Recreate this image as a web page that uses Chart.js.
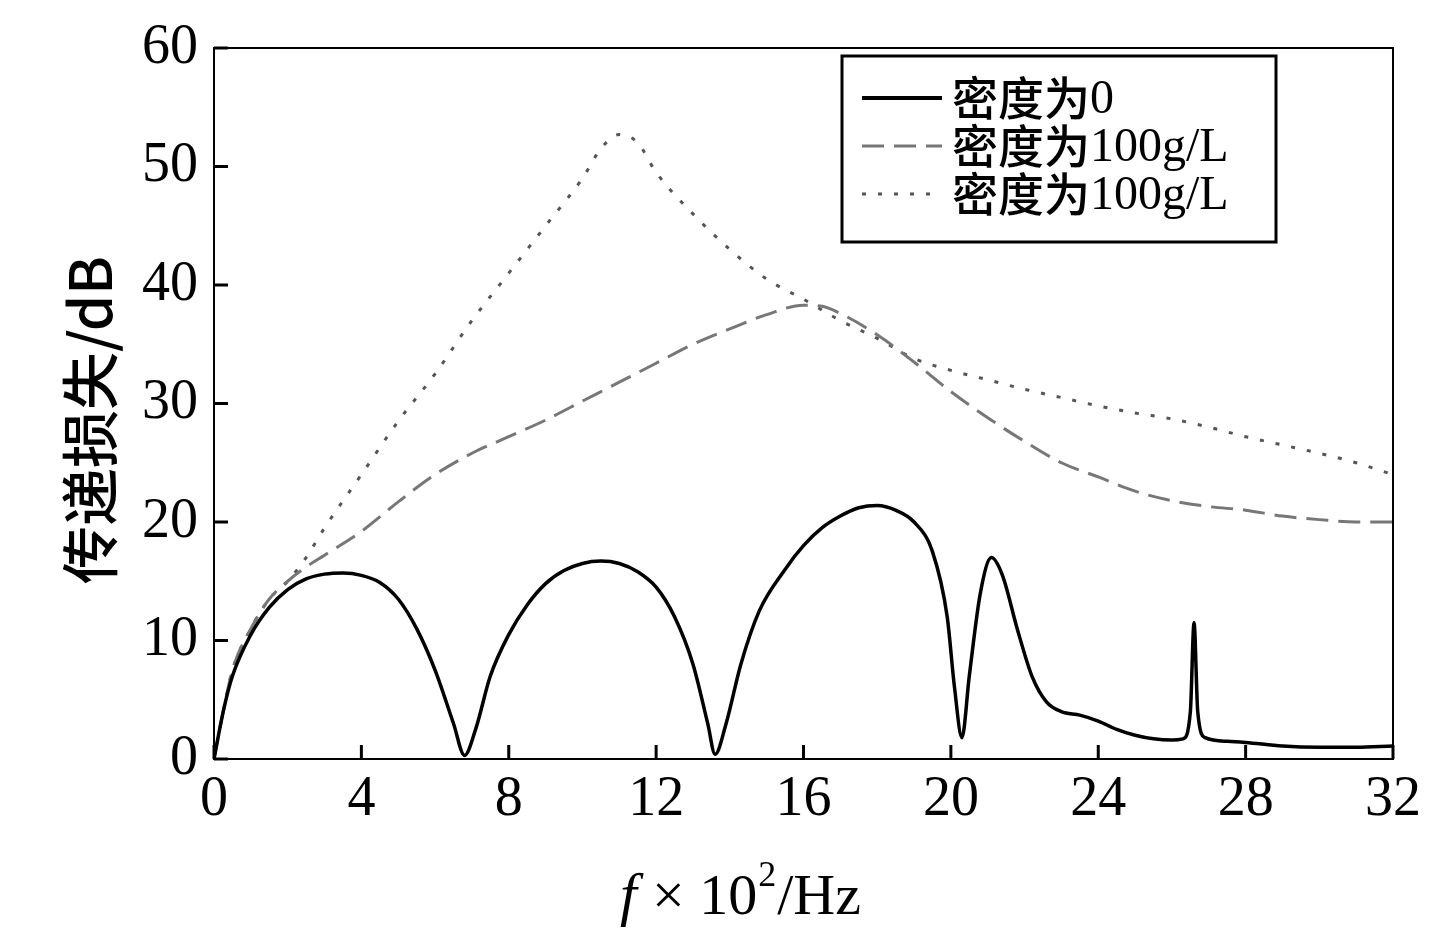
<!DOCTYPE html>
<html><head><meta charset="utf-8">
<script src="https://cdn.jsdelivr.net/npm/chart.js@4/dist/chart.umd.min.js"></script>
<style>html,body{margin:0;padding:0;background:#fff}#w{width:1448px;height:941px}</style>
</head><body><div id="w"><canvas id="c"></canvas></div>
<script>
const labels = ["密度为0","密度为100g/L","密度为100g/L"];
const xTicks = [0,4,8,12,16,20,24,28,32];
const yTicks = [0,10,20,30,40,50,60];
const solidX = [0,0.25,0.5,1,1.5,2,2.5,3,3.5,4,4.5,5,5.5,6,6.5,6.8,7.1,7.5,8,8.5,9,9.5,10,10.5,11,11.5,12,12.5,13,13.4,13.6,13.9,14.3,14.8,15.5,16,16.5,17,17.5,18,18.5,19,19.5,19.9,20.1,20.3,20.5,20.8,21.1,21.4,21.8,22.2,22.6,23,23.5,24,24.5,25,25.5,26,26.3,26.5,26.6,26.7,26.9,27.5,28,29,30,31,32];
const solidY = [0,4,7,10.5,12.8,14.3,15.2,15.6,15.7,15.5,14.9,13.5,11,7.5,3,0.3,2.5,7,10.5,13,14.8,15.9,16.5,16.7,16.5,15.8,14.5,12,8,3,0.4,3,8,12.5,16,18,19.5,20.5,21.2,21.4,21,20,17.5,12,6,1.8,7,14,17,15.5,11,7,4.8,4,3.7,3.2,2.5,2,1.7,1.6,1.7,4,11.5,4,1.8,1.5,1.4,1.1,1,1,1.1];
const dashX = [0,0.25,0.5,1,1.5,2,2.5,3,4,5,6,7,8,9,10,11,12,13,14,15,16,16.5,17,18,19,20,21,22,23,24,25,26,27,28,29,30,31,32];
const dashY = [0,4,7.5,11,13.5,15,16.2,17.2,19.2,21.7,24,25.8,27.2,28.6,30.2,31.8,33.4,35,36.3,37.5,38.3,38.2,37.6,35.8,33.5,31,28.8,26.8,25,23.8,22.6,21.8,21.3,21,20.5,20.2,20,20];
const dotX = [0,0.25,0.5,1,1.5,2,2.5,3,4,5,6,7,8,9,10,10.5,11,11.5,12,13,14,15,16,17,18,19,20,21,22,23,24,25,26,27,28,29,30,31,32];
const dotY = [0,4,7.5,11,13.5,15,17,19.5,24,28.5,32.5,37,41,45,49,51.5,52.7,52,49.5,46,43,40.5,38.8,37,35.5,33.8,32.8,32,31.2,30.5,29.8,29.2,28.7,28,27.2,26.5,25.8,25,24];
const pts=(xs,ys)=>xs.map((x,i)=>({x,y:ys[i]}));
const F='"Liberation Serif","Noto Sans CJK SC",serif';
const deco={id:'deco',afterDraw(ch){
 const c=ch.ctx,a=ch.chartArea,xs=ch.scales.x,ys=ch.scales.y;
 c.save();c.strokeStyle='#000';c.lineWidth=2;c.strokeRect(a.left,a.top,a.right-a.left,a.bottom-a.top);
 c.lineWidth=3;
 xTicks.forEach(v=>{const p=xs.getPixelForValue(v);c.beginPath();c.moveTo(p,a.bottom);c.lineTo(p,a.bottom-14);c.stroke();});
 yTicks.forEach(v=>{const p=ys.getPixelForValue(v);c.beginPath();c.moveTo(a.left,p);c.lineTo(a.left+14,p);c.stroke();});
 c.fillStyle='#000';c.textBaseline='alphabetic';
 c.font='italic 60px "Liberation Serif",serif';c.textAlign='left';
 c.fillText('f',620,914);
 c.font='58px "Liberation Serif",serif';c.fillText('× 10',652,914);
 const w=c.measureText('× 10').width;c.font='36px "Liberation Serif",serif';c.fillText('2',652+w+1,886);
 c.font='58px "Liberation Serif",serif';c.fillText('/Hz',652+w+20,914);
 c.translate(112,420);c.rotate(-Math.PI/2);c.textAlign='center';
 c.font='500 58px "Noto Sans CJK SC","Liberation Serif",serif';c.fillText('传递损失/dB',0,0);
 c.restore();
 c.save();c.strokeStyle='#000';c.lineWidth=3;c.strokeRect(842,56,434,186);
 const dash=[[],[22,10],[4,12]],cols=['#000','#777','#555'];
 labels.forEach((t,i)=>{const y=98+i*48;c.strokeStyle=cols[i];c.lineWidth=i==0?4:3;c.setLineDash(dash[i]);
  c.beginPath();c.moveTo(862,y);c.lineTo(942,y);c.stroke();
  c.setLineDash([]);c.fillStyle='#000';c.font='500 46px "Noto Sans CJK SC",serif';c.textBaseline='middle';c.textAlign='left';
  c.fillText(t.slice(0,3),952,y);const ww=c.measureText(t.slice(0,3)).width;
  c.font='48px "Liberation Serif",serif';c.fillText(t.slice(3),952+ww,y+2);});
 c.restore();
}};
new Chart(document.getElementById('c'),{type:'line',
 data:{datasets:[
  {label:labels[0],data:pts(solidX,solidY),borderColor:'#000',borderWidth:3.5,pointRadius:0,tension:0.4,cubicInterpolationMode:'monotone'},
  {label:labels[1],data:pts(dashX,dashY),borderColor:'#777',borderWidth:3,borderDash:[22,10],pointRadius:0,tension:0.4,cubicInterpolationMode:'monotone'},
  {label:labels[2],data:pts(dotX,dotY),borderColor:'#555',borderWidth:3,borderDash:[4,12],pointRadius:0,tension:0.4,cubicInterpolationMode:'monotone'}]},
 options:{responsive:true,maintainAspectRatio:false,animation:false,
  layout:{padding:{left:0,top:48,right:55,bottom:0}},
  plugins:{legend:{display:false},tooltip:{enabled:false}},
  scales:{
   x:{type:'linear',min:0,max:32,afterFit:s=>{s.height=182;},afterBuildTicks:s=>{s.ticks=xTicks.map(v=>({value:v}));},
     grid:{display:false},border:{display:false},ticks:{color:'#000',font:{family:F,size:56},padding:0,maxRotation:0}},
   y:{min:0,max:60,afterFit:s=>{s.width=214;},afterBuildTicks:s=>{s.ticks=yTicks.map(v=>({value:v}));},
     grid:{display:false},border:{display:false},ticks:{color:'#000',font:{family:F,size:56},padding:8}}}},
 plugins:[deco]});
</script></body></html>
